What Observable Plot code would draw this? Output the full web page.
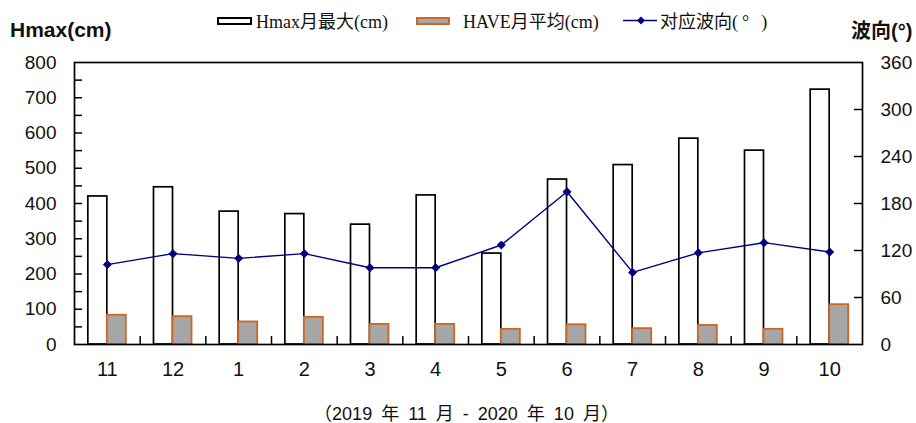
<!DOCTYPE html>
<html><head><meta charset="utf-8">
<script src="https://cdn.jsdelivr.net/npm/d3@7"></script>
<script src="https://cdn.jsdelivr.net/npm/@observablehq/plot@0.6"></script>
<style>
body{margin:0;background:#fff;}
#wrap{position:relative;width:916px;height:423px;font-family:"Liberation Sans",Arial,sans-serif;color:#111;overflow:hidden;}
#wrap svg.plot{position:absolute;left:0;top:0;}
.t{position:absolute;white-space:nowrap;}
.lg{position:absolute;white-space:nowrap;font-family:"Liberation Serif","Noto Sans CJK SC",serif;font-size:18px;line-height:18px;top:13px;color:#111;}
.box{position:absolute;box-sizing:border-box;}
</style></head><body>
<div id="wrap">
<div class="t" style="left:10px;top:18px;font-weight:bold;font-size:21px;">Hmax(cm)</div>
<div class="t" style="left:851px;top:20px;font-weight:bold;font-size:20px;line-height:22px;font-family:'Liberation Sans','Noto Sans CJK SC',sans-serif;">波向(°)</div>
<div class="box" style="left:217px;top:16.5px;width:35px;height:8.5px;border:2px solid #000;background:#fff;"></div>
<div class="lg" style="left:256px;">Hmax月最大(cm)</div>
<div class="box" style="left:416px;top:16.5px;width:34px;height:8.5px;border:2px solid #d0661f;background:#a6a6a6;"></div>
<div class="lg" style="left:463px;">HAVE月平均(cm)</div>
<svg style="position:absolute;left:623px;top:14px;" width="34" height="13"><line x1="0" y1="6.5" x2="34" y2="6.5" stroke="#00007f" stroke-width="1.6"/><path d="M18,2.5L22,6.5L18,10.5L14,6.5Z" fill="#00007f"/></svg>
<div class="lg" style="left:660px;">对应波向(<span style="padding-left:4px;padding-right:12px;">°</span>)</div>
<div class="t" style="left:0;width:933px;text-align:center;top:405px;font-size:18px;line-height:18px;word-spacing:4px;font-family:'Liberation Sans','Noto Sans CJK SC',sans-serif;">（2019 年 11 月 - 2020 年 10 月）</div>
</div>
<script>
const months = ["11","12","1","2","3","4","5","6","7","8","9","10"];
const hmax = [420,446,377,370,340,423,258,468,509,584,550,723];
const have = [83,79,64,77,57,57,43,56,45,54,43,113];
const dir  = [102,116,110,116,98,98,127,195,92,117,130,118];
const leftTicks = [0,100,200,300,400,500,600,700,800];
const leftMinor = d3.range(50, 800, 50);
const rightTicks = [0,60,120,180,240,300,360];

const data = months.map((m,i)=>({month:m, hmax:hmax[i], have:have[i], dir:dir[i]}));
const W = 916, H = 423, mL = 74, mR = 54, mT = 62, mB = 79;
const fw = W - mL - mR;
const bw = fw / months.length;
const barW = 19;
const k = 800/360; // right axis value -> left axis units

const plot = Plot.plot({
  width: W, height: H,
  marginLeft: mL, marginRight: mR, marginTop: mT, marginBottom: mB,
  style: {fontFamily: "'Liberation Sans', Arial, sans-serif", fontSize: "19px", color:"#111", background:"#fff"},
  x: {type:"band", domain: months, padding: 0, round: false, axis: null},
  y: {domain:[0,800], axis: null},
  marks: [
    Plot.barY(data, {x:"month", y:"hmax", fill:"#fff", stroke:"#000", strokeWidth:1.7, insetLeft: bw/2 - barW, insetRight: bw/2}),
    Plot.barY(data, {x:"month", y:"have", fill:"#a6a6a6", stroke:"#d0661f", strokeWidth:1.8, insetLeft: bw/2, insetRight: bw/2 - barW}),
    Plot.line(data, {x:"month", y: d=>d.dir*k, stroke:"#00007f", strokeWidth:1.4}),
    Plot.dot(data, {x:"month", y: d=>d.dir*k, symbol:"diamond2", r:3.6, fill:"#00007f", stroke:"#00007f", strokeWidth:1}),
    Plot.tickY(leftMinor, {y: d=>d, stroke:"#000", strokeWidth:1.5, insetRight: fw - 8}),
    Plot.tickY(rightTicks.slice(1,-1), {y: d=>d*k, stroke:"#000", strokeWidth:1.5, insetLeft: fw - 8}),
    Plot.tickX(months.slice(1), {x: d=>d, dx: -bw/2, stroke:"#000", strokeWidth:1.5, insetTop: (H-mT-mB) - 8}),
    Plot.frame({stroke:"#000", strokeWidth:1.7}),
    Plot.axisY({ticks: leftTicks, tickSize: 0, tickPadding: 18, fontSize: 19, label: null}),
    Plot.axisY({anchor:"right", ticks: rightTicks.map(d=>d*k), tickFormat: d=>String(Math.round(d/k)), tickSize: 0, tickPadding: 18, fontSize: 19, label: null}),
    Plot.axisX({tickSize: 0, tickPadding: 17, fontSize: 20, label: null})
  ]
});
plot.classList.add("plot");
document.getElementById("wrap").prepend(plot);
</script>
</body></html>
